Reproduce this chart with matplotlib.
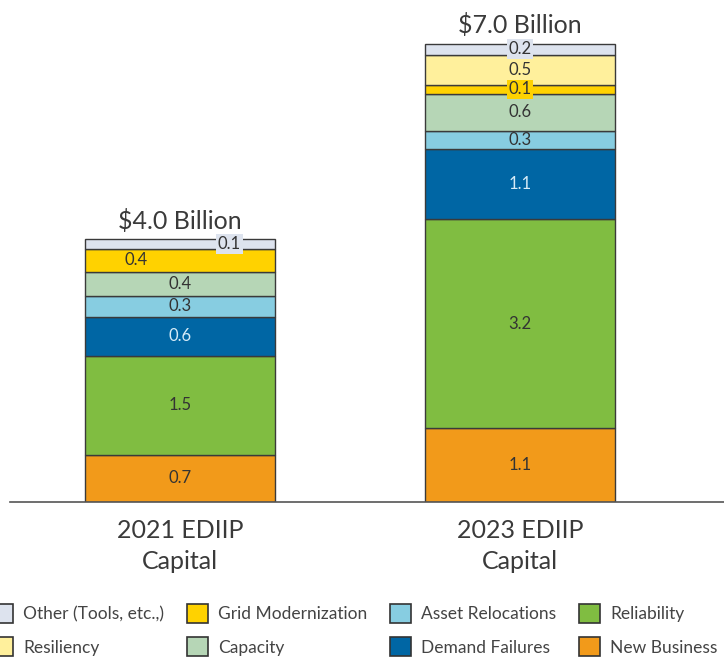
import matplotlib
matplotlib.use("Agg")
import matplotlib.pyplot as plt
from matplotlib.patches import Patch

categories = ["2021 EDIIP\nCapital", "2023 EDIIP\nCapital"]
totals = ["$4.0 Billion", "$7.0 Billion"]
series = ["New Business", "Reliability", "Demand Failures", "Asset Relocations",
          "Capacity", "Grid Modernization", "Resiliency", "Other (Tools, etc.,)"]
values_2021 = [0.72, 1.52, 0.60, 0.32, 0.36, 0.36, 0.0, 0.14]
values_2023 = [1.13, 3.20, 1.07, 0.28, 0.57, 0.14, 0.46, 0.17]
labels_2021 = ["0.7", "1.5", "0.6", "0.3", "0.4", "0.4", "", "0.1"]
labels_2023 = ["1.1", "3.2", "1.1", "0.3", "0.6", "0.1", "0.5", "0.2"]

colors = {
    "New Business": "#f29a1a",
    "Reliability": "#80bd41",
    "Demand Failures": "#0066a4",
    "Asset Relocations": "#87cde1",
    "Capacity": "#b6d6b6",
    "Grid Modernization": "#ffd200",
    "Resiliency": "#fff09c",
    "Other (Tools, etc.,)": "#dde3ee",
}
text_colors = {"Demand Failures": "#d6ebf7"}

plt.rcParams['font.family'] = ['Lato', 'DejaVu Sans']

fig = plt.figure(figsize=(7.24, 6.6), dpi=100)
W, H = 724, 660
ax = fig.add_axes([10 / W, (H - 502) / H, 714 / W, 492 / H])
ax.set_xlim(-0.5, 1.6)
ax.set_ylim(0, 492 / 65.3)

width = 0.556
xs = [0, 1]
all_vals = [values_2021, values_2023]
all_labels = [labels_2021, labels_2023]
# label x-offsets for specific segments (bar index, series) -> dx
offsets = {(0, "Grid Modernization"): -0.13, (0, "Other (Tools, etc.,)"): 0.145}

for i, (x, vals, labs) in enumerate(zip(xs, all_vals, all_labels)):
    bottom = 0.0
    for s, v, lab in zip(series, vals, labs):
        if v <= 0:
            continue
        ax.bar(x, v, width=width, bottom=bottom, color=colors[s],
               edgecolor="#3a3a3a", linewidth=1.0)
        dx = offsets.get((i, s), 0.0)
        bbox = None
        if v < 0.2:
            bbox = dict(boxstyle="square,pad=0.1", fc=colors[s], ec="none")
        ax.text(x + dx, bottom + v / 2, lab, ha="center", va="center",
                fontsize=12, color=text_colors.get(s, "#333333"), bbox=bbox)
        bottom += v
    ax.text(x, bottom + 0.1, totals[i], ha="center", va="bottom",
            fontsize=18, color="#3a3a3a")

for sp in ["top", "right", "left"]:
    ax.spines[sp].set_visible(False)
ax.spines["bottom"].set_color("#555555")
ax.spines["bottom"].set_linewidth(1.2)
ax.set_yticks([])
ax.set_xticks(xs)
ax.set_xticklabels(categories, fontsize=18, color="#3a3a3a", linespacing=1.45)
ax.tick_params(axis="x", length=0, pad=12)

legend_order = ["Other (Tools, etc.,)", "Resiliency", "Grid Modernization", "Capacity",
                "Asset Relocations", "Demand Failures", "Reliability", "New Business"]
handles = [Patch(facecolor=colors[s], edgecolor="#333333", linewidth=1.2, label=s)
           for s in legend_order]
fig.legend(handles=handles, ncol=4, loc="center", bbox_to_anchor=(0.49, (H - 630) / H),
           frameon=False, fontsize=12.5, handlelength=1.2, handleheight=1.3,
           columnspacing=1.3, handletextpad=0.6, labelspacing=0.85,
           labelcolor="#444444", borderpad=0)

fig.savefig("out.png", dpi=100)
